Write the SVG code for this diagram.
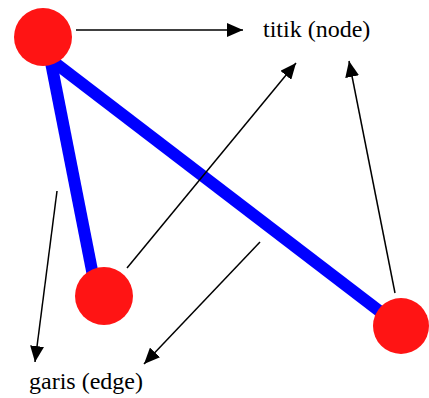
<svg xmlns="http://www.w3.org/2000/svg" width="429" height="398" viewBox="0 0 429 398">
  <style>
    .edge { stroke: #0000ff; stroke-width: 12; fill: none; }
    .node { fill: #ff1414; }
    .arrow { stroke: #000; stroke-width: 1.5; fill: none; marker-end: url(#ah); }
    .label { font-family: "Liberation Serif", "Times New Roman", serif; font-size: 24px; fill: #000; }
  </style>
  <defs>
    <marker id="ah" markerUnits="userSpaceOnUse" viewBox="0 0 16 14" refX="16" refY="7" markerWidth="16" markerHeight="14" orient="auto">
      <path d="M0,0 L16,7 L0,14 Z" fill="#000"/>
    </marker>
  </defs>
  <g id="edges">
    <line class="edge" x1="46" y1="37" x2="97" y2="296"/>
    <line class="edge" x1="46" y1="56" x2="395" y2="323"/>
  </g>
  <g id="node-a"><circle class="node" cx="43" cy="37" r="29"/></g>
  <g id="node-b"><circle class="node" cx="104" cy="296" r="29"/></g>
  <g id="node-c"><circle class="node" cx="401" cy="326" r="28"/></g>
  <g id="connectors">
    <line class="arrow" x1="76" y1="30" x2="243" y2="30"/>
    <line class="arrow" x1="127" y1="268" x2="296" y2="63"/>
    <line class="arrow" x1="395" y1="293" x2="349" y2="61"/>
    <line class="arrow" x1="57" y1="191" x2="35" y2="362"/>
    <line class="arrow" x1="260" y1="242" x2="144" y2="364"/>
  </g>
  <g id="label-node"><text class="label" x="263" y="37">titik (node)</text></g>
  <g id="label-edge"><text class="label" x="29" y="389">garis (edge)</text></g>
</svg>
